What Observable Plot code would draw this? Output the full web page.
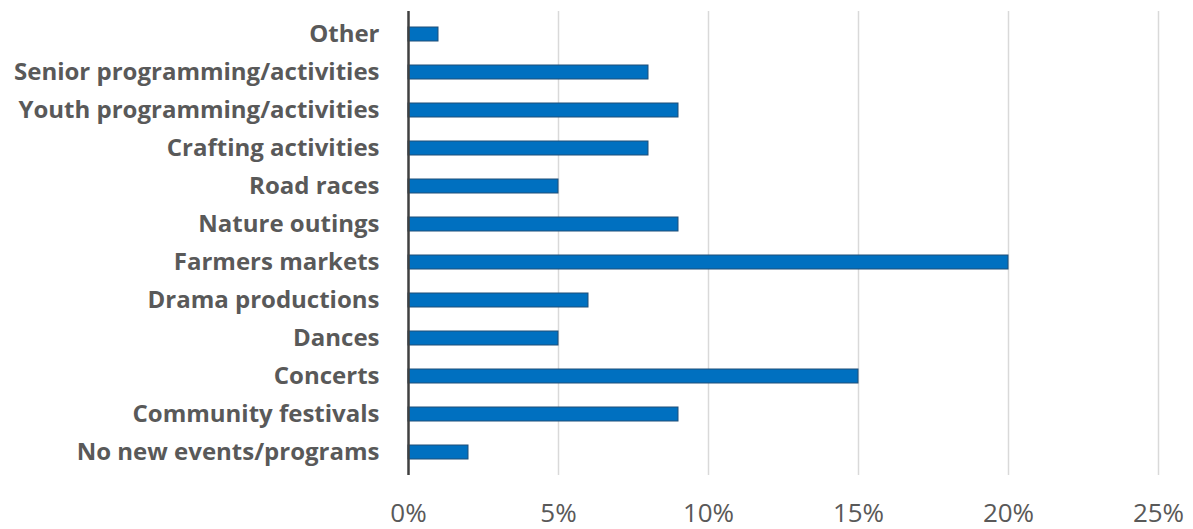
<!DOCTYPE html>
<html>
<head>
<meta charset="utf-8">
<script src="https://cdn.jsdelivr.net/npm/d3@7"></script>
<script src="https://cdn.jsdelivr.net/npm/@observablehq/plot@0.6"></script>
<style>
  html, body { margin: 0; padding: 0; background: #fff; }
  #chart { width: 1193px; height: 529px; }
  svg text { font-variant-ligatures: none; }
</style>
</head>
<body>
<div id="chart"></div>
<script>
const categories = [
  "Other",
  "Senior programming/activities",
  "Youth programming/activities",
  "Crafting activities",
  "Road races",
  "Nature outings",
  "Farmers markets",
  "Drama productions",
  "Dances",
  "Concerts",
  "Community festivals",
  "No new events/programs"
];
const values = [0.01, 0.08, 0.09, 0.08, 0.05, 0.09, 0.20, 0.06, 0.05, 0.15, 0.09, 0.02];
const xTicks = [0, 0.05, 0.10, 0.15, 0.20, 0.25];

const data = categories.map((c, i) => ({category: c, value: values[i]}));

const chart = Plot.plot({
  width: 1193,
  height: 529,
  marginTop: 11,
  marginBottom: 54,
  marginLeft: 408,
  marginRight: 35,
  style: {fontFamily: "'Open Sans', sans-serif", background: "#fff"},
  x: {domain: [0, 0.25], ticks: xTicks, tickFormat: d3.format(".0%"), label: null},
  y: {domain: categories, paddingInner: 0.62, paddingOuter: 0.31, label: null},
  marks: [
    Plot.gridX(xTicks.slice(1), {stroke: "#d9d9d9", strokeWidth: 1.5, strokeOpacity: 1}),
    Plot.barX(data, {x: "value", y: "category", fill: "#0070C0", stroke: "#1F4E79", strokeWidth: 1}),
    Plot.ruleX([0], {stroke: "#404040", strokeWidth: 2.5}),
    Plot.axisX({ticks: xTicks, tickFormat: d3.format(".0%"), tickSize: 0, tickPadding: 28, fontSize: 26, fill: "#595959", label: null}),
    Plot.axisY({tickSize: 0, tickPadding: 29, fontSize: 24, fontWeight: "bold", fill: "#595959", label: null})
  ]
});
document.getElementById("chart").appendChild(chart);
</script>
</body>
</html>
